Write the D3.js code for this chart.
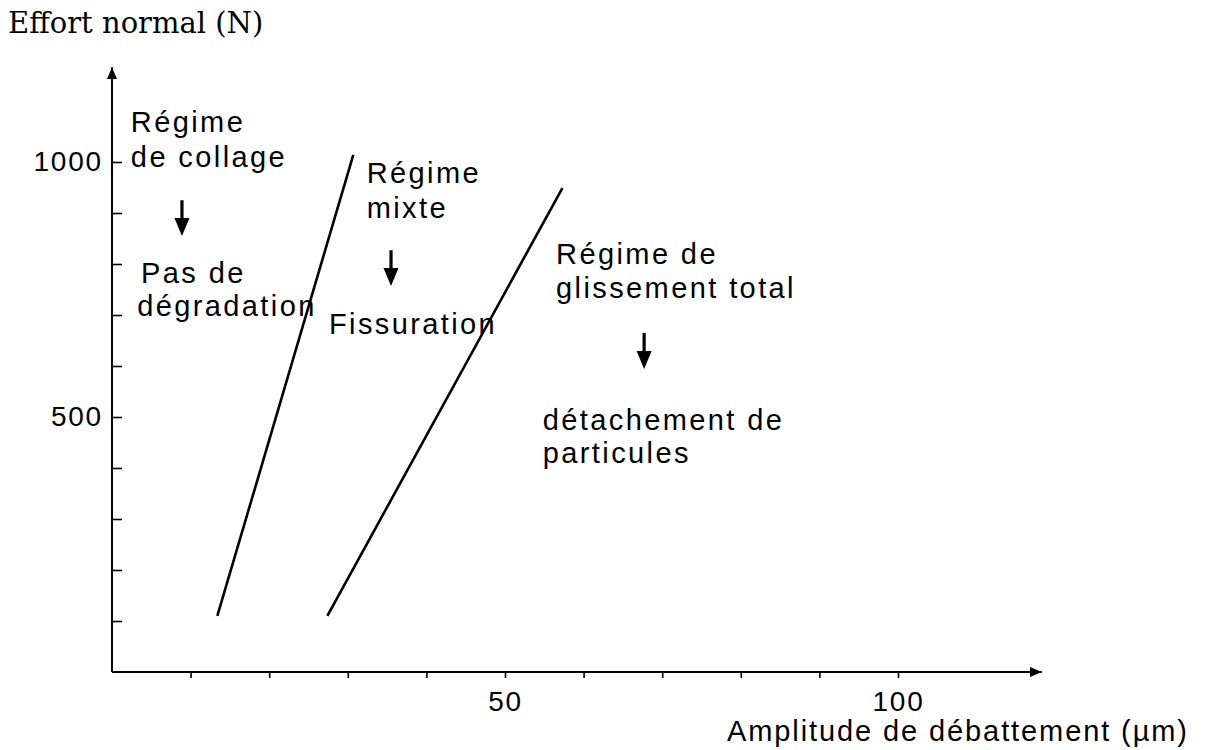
<!DOCTYPE html>
<html>
<head>
<meta charset="utf-8">
<script src="https://cdn.jsdelivr.net/npm/d3@7"></script>
<style>
  body { margin: 0; background: #fff; }
  svg text { fill: #000; }
</style>
</head>
<body>
<div id="chart"></div>
<script>
// tick values
var xTicks = [10, 20, 30, 40, 50, 60, 70, 80, 90, 100];
var xLabels = [50, 100];
var yTicks = [100, 200, 300, 400, 500, 600, 700, 800, 900, 1000];
var yLabels = [500, 1000];

// boundary lines between regimes (amplitude um, normal force N)
var boundary1 = [[13.4, 110], [30.7, 1014]];
var boundary2 = [[27.4, 110], [57.3, 949]];

// annotation text, anchored in data units
var labelText = ["Régime", "de collage", "Pas de", "dégradation",
                 "Régime", "mixte", "Fissuration",
                 "Régime de", "glissement total", "détachement de", "particules"];
var labelX = [2.4, 2.4, 3.7, 3.2, 32.4, 32.4, 27.6, 56.5, 56.5, 54.8, 54.8];
var labelY = [1059, 990, 763, 698, 959, 890, 663, 800, 733, 475, 410];

// down arrows: x, top, tip
var arrowX = [8.9, 35.5, 67.7];
var arrowTop = [925, 827, 665];
var arrowTip = [855, 757, 594];

var width = 1230, height = 750;

var svg = d3.select("#chart")
  .append("svg")
  .attr("width", width)
  .attr("height", height);

var x = d3.scaleLinear().domain([0, 100]).range([112, 898]);
var y = d3.scaleLinear().domain([0, 1000]).range([672, 162]);

var sansFont = "'Liberation Sans', Arial, sans-serif";

// arrowhead marker for the axes
svg.append("defs").append("marker")
  .attr("id", "axisArrow")
  .attr("viewBox", "0 0 12 10")
  .attr("refX", 12)
  .attr("refY", 5)
  .attr("markerWidth", 12)
  .attr("markerHeight", 10)
  .attr("markerUnits", "userSpaceOnUse")
  .attr("orient", "auto")
  .append("path")
  .attr("d", "M0,0L12,5L0,10Z")
  .attr("fill", "#000");

// axis lines
svg.append("line")
  .attr("x1", x(0)).attr("y1", y(0))
  .attr("x2", x(118.3)).attr("y2", y(0))
  .attr("stroke", "#000").attr("stroke-width", 2)
  .attr("marker-end", "url(#axisArrow)");
svg.append("line")
  .attr("x1", x(0)).attr("y1", y(0))
  .attr("x2", x(0)).attr("y2", y(1186))
  .attr("stroke", "#000").attr("stroke-width", 2)
  .attr("marker-end", "url(#axisArrow)");

// x axis ticks
var xAxis = d3.axisBottom(x)
  .tickValues(xTicks)
  .tickSizeInner(6)
  .tickSizeOuter(0)
  .tickPadding(13)
  .tickFormat(function(d) { return xLabels.indexOf(d) >= 0 ? d : ""; });

var XAXIS = svg.append("g")
  .attr("transform", "translate(0," + y(0) + ")")
  .call(xAxis);

// y axis ticks point inward
var yAxis = d3.axisLeft(y)
  .tickValues(yTicks)
  .tickSizeInner(-10)
  .tickSizeOuter(0)
  .tickPadding(9)
  .tickFormat(function(d) { return yLabels.indexOf(d) >= 0 ? d : ""; });

var YAXIS = svg.append("g")
  .attr("transform", "translate(" + x(0) + ",0)")
  .call(yAxis);

[XAXIS, YAXIS].forEach(function(g) {
  g.select(".domain").remove();
  g.selectAll(".tick line").attr("stroke", "#000").attr("stroke-width", 1.6);
  g.selectAll(".tick text")
    .attr("font-family", sansFont)
    .attr("font-size", 28)
    .attr("letter-spacing", 1.8)
    .attr("fill", "#000");
});

// axis titles
svg.append("text")
  .attr("x", 8)
  .attr("y", 33)
  .attr("font-family", "'DejaVu Serif', 'Liberation Serif', serif")
  .attr("font-size", 29)
  .text("Effort normal (N)");

svg.append("text")
  .attr("x", 727)
  .attr("y", 741)
  .attr("font-family", sansFont)
  .attr("font-size", 29)
  .attr("letter-spacing", 1.9)
  .text("Amplitude de débattement (µm)");

// regime boundaries
var line = d3.line()
  .x(function(d) { return x(d[0]); })
  .y(function(d) { return y(d[1]); });

svg.selectAll("path.boundary")
  .data([boundary1, boundary2])
  .enter()
  .append("path")
  .attr("class", "boundary")
  .attr("d", line)
  .attr("fill", "none")
  .attr("stroke", "#000")
  .attr("stroke-width", 2.6);

// labels
svg.selectAll("text.note")
  .data(labelText)
  .enter()
  .append("text")
  .attr("class", "note")
  .attr("x", function(d, i) { return x(labelX[i]); })
  .attr("y", function(d, i) { return y(labelY[i]); })
  .attr("font-family", sansFont)
  .attr("font-size", 29)
  .attr("letter-spacing", 2.4)
  .text(function(d) { return d; });

// down arrows
var arrows = svg.selectAll("g.downArrow")
  .data(arrowX)
  .enter()
  .append("g")
  .attr("class", "downArrow");

arrows.append("line")
  .attr("x1", function(d) { return x(d); })
  .attr("x2", function(d) { return x(d); })
  .attr("y1", function(d, i) { return y(arrowTop[i]); })
  .attr("y2", function(d, i) { return y(arrowTip[i]) - 12; })
  .attr("stroke", "#000")
  .attr("stroke-width", 3.2);

arrows.append("path")
  .attr("d", function(d, i) {
    var cx = x(d), tip = y(arrowTip[i]);
    return "M" + (cx - 7.5) + "," + (tip - 18) + "L" + (cx + 7.5) + "," + (tip - 18) + "L" + cx + "," + tip + "Z";
  })
  .attr("fill", "#000");
</script>
</body>
</html>
